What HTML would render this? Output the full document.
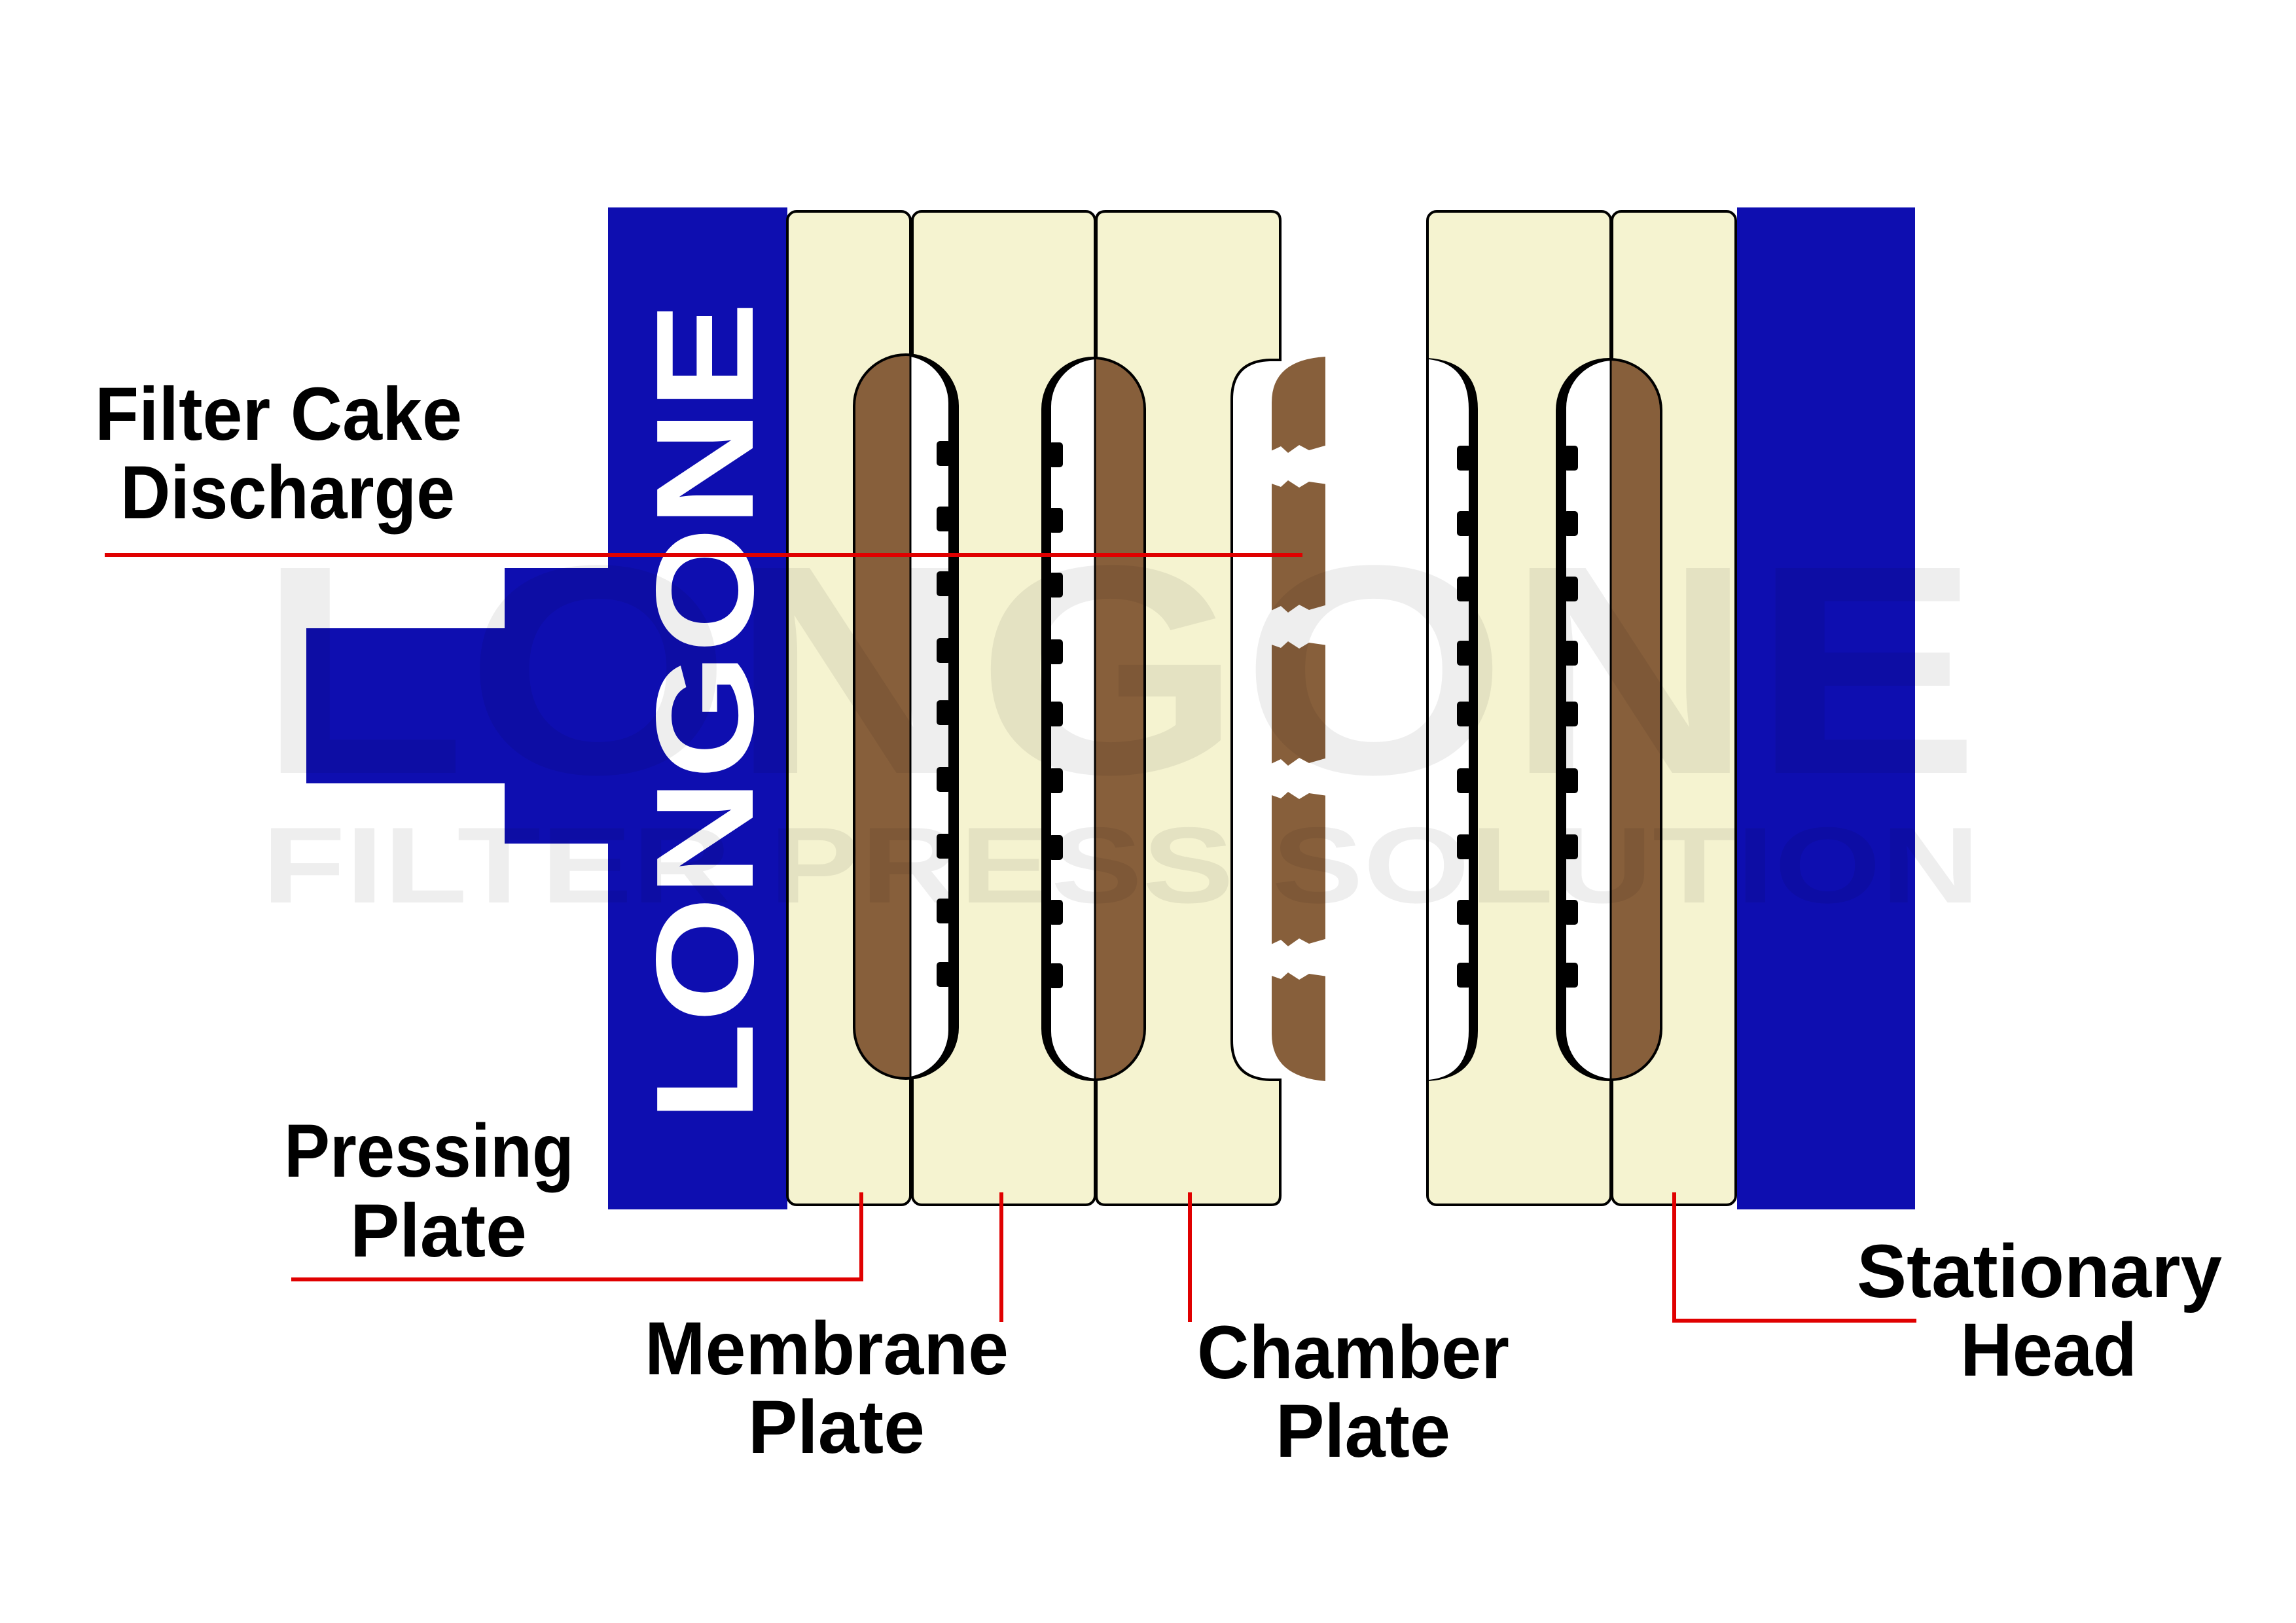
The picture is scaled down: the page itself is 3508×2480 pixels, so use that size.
<!DOCTYPE html>
<html><head><meta charset="utf-8"><style>html,body{margin:0;padding:0;background:#fff}svg{display:block}</style></head>
<body>
<svg width="3508" height="2480" viewBox="0 0 3508 2480" xmlns="http://www.w3.org/2000/svg">
<defs>
<clipPath id="L1"><rect x="0" y="0" width="1391" height="2480"/></clipPath>
<clipPath id="R1"><rect x="1391" y="0" width="2000" height="2480"/></clipPath>
<clipPath id="L2"><rect x="0" y="0" width="1673" height="2480"/></clipPath>
<clipPath id="R2"><rect x="1673" y="0" width="2000" height="2480"/></clipPath>
<clipPath id="L5"><rect x="0" y="0" width="2461" height="2480"/></clipPath>
<clipPath id="R5"><rect x="2461" y="0" width="2000" height="2480"/></clipPath>
<g id="bumpR"><rect x="-18" y="-19" width="22" height="38" rx="5" fill="#000"/></g>
<g id="bumpL"><rect x="-4" y="-19" width="22" height="38" rx="5" fill="#000"/></g>
</defs>

<rect x="468" y="960" width="310" height="237" fill="#0e0eb0"/>
<rect x="771" y="868" width="170" height="421" fill="#0e0eb0"/>
<rect x="929" y="317" width="274" height="1531" fill="#0e0eb0"/>
<rect x="2654" y="317" width="272" height="1531" fill="#0e0eb0"/>

<rect x="1203" y="323" width="188" height="1518" rx="14" fill="#f5f3d0" stroke="#000" stroke-width="4"/>
<rect x="1394" y="323" width="279" height="1518" rx="14" fill="#f5f3d0" stroke="#000" stroke-width="4"/>
<path d="M1689,323 H1942 Q1956,323 1956,337 V550 H1940 Q1882,552 1882,610 V1590 Q1882,1648 1940,1650 H1956 V1827 Q1956,1841 1942,1841 H1689 Q1675,1841 1675,1827 V337 Q1675,323 1689,323 Z" fill="#f5f3d0" stroke="#000" stroke-width="4"/>
<rect x="2181" y="323" width="280" height="1518" rx="14" fill="#f5f3d0" stroke="#000" stroke-width="4"/>
<rect x="2463" y="323" width="189" height="1518" rx="14" fill="#f5f3d0" stroke="#000" stroke-width="4"/>

<rect x="1303" y="540" width="162" height="1110" rx="81" ry="80" fill="#000"/>
<rect x="1307" y="544" width="154" height="1102" rx="77" ry="76" fill="#875f3b" clip-path="url(#L1)"/>
<rect x="1293" y="544" width="156" height="1102" rx="70" ry="72" fill="#fff" clip-path="url(#R1)"/>
<line x1="1391" y1="540" x2="1391" y2="1650" stroke="#000" stroke-width="3"/>
<g transform="translate(1449,0)">
<use href="#bumpR" y="693"/><use href="#bumpR" y="793"/><use href="#bumpR" y="892"/><use href="#bumpR" y="994"/><use href="#bumpR" y="1089"/><use href="#bumpR" y="1191"/><use href="#bumpR" y="1293"/><use href="#bumpR" y="1392"/><use href="#bumpR" y="1489"/>
</g>

<rect x="1591" y="545" width="160" height="1107" rx="80" ry="80" fill="#000"/>
<rect x="1606" y="549" width="170" height="1099" rx="72" ry="72" fill="#fff" clip-path="url(#L2)"/>
<rect x="1595" y="549" width="152" height="1099" rx="76" ry="76" fill="#875f3b" clip-path="url(#R2)"/>
<line x1="1673" y1="545" x2="1673" y2="1652" stroke="#000" stroke-width="3"/>
<g transform="translate(1606,0)">
<use href="#bumpL" y="695"/><use href="#bumpL" y="795"/><use href="#bumpL" y="894"/><use href="#bumpL" y="996"/><use href="#bumpL" y="1091"/><use href="#bumpL" y="1193"/><use href="#bumpL" y="1295"/><use href="#bumpL" y="1394"/><use href="#bumpL" y="1491"/>
</g>

<path d="M2025,545 V1652 Q1943,1645 1943,1580 V615 Q1943,550 2025,545 Z" fill="#875f3b"/>
<g fill="#fff">
<polygon points="1940,690 1957,682 1968,692 1985,680 2000,688 2028,680 2028,740 2000,736 1985,745 1968,734 1957,744 1940,738"/>
<polygon points="1940,934 1957,926 1968,936 1985,924 2000,932 2028,924 2028,986 2000,982 1985,991 1968,980 1957,990 1940,984"/>
<polygon points="1940,1168 1957,1160 1968,1170 1985,1158 2000,1166 2028,1158 2028,1216 2000,1212 1985,1221 1968,1210 1957,1220 1940,1214"/>
<polygon points="1940,1444 1957,1436 1968,1446 1985,1434 2000,1442 2028,1434 2028,1492 2000,1488 1985,1497 1968,1486 1957,1496 1940,1490"/>
</g>

<path d="M2181,547 Q2258,552 2258,625 V1575 Q2258,1648 2181,1652 Z" fill="#000"/>
<path d="M2183,549 Q2244,556 2244,625 V1575 Q2244,1644 2183,1650 Z" fill="#fff"/>
<line x1="2181" y1="547" x2="2181" y2="1652" stroke="#000" stroke-width="4"/>
<g transform="translate(2244,0)">
<use href="#bumpR" y="700"/><use href="#bumpR" y="800"/><use href="#bumpR" y="900"/><use href="#bumpR" y="998"/><use href="#bumpR" y="1091"/><use href="#bumpR" y="1193"/><use href="#bumpR" y="1294"/><use href="#bumpR" y="1394"/><use href="#bumpR" y="1490"/>
</g>

<rect x="2377" y="547" width="163" height="1105" rx="81" ry="80" fill="#000"/>
<rect x="2393" y="551" width="170" height="1097" rx="72" ry="72" fill="#fff" clip-path="url(#L5)"/>
<rect x="2381" y="551" width="155" height="1097" rx="77" ry="76" fill="#875f3b" clip-path="url(#R5)"/>
<line x1="2461" y1="547" x2="2461" y2="1652" stroke="#000" stroke-width="3"/>
<g transform="translate(2393,0)">
<use href="#bumpL" y="700"/><use href="#bumpL" y="800"/><use href="#bumpL" y="900"/><use href="#bumpL" y="998"/><use href="#bumpL" y="1091"/><use href="#bumpL" y="1193"/><use href="#bumpL" y="1294"/><use href="#bumpL" y="1394"/><use href="#bumpL" y="1490"/>
</g>

<text transform="translate(1150,1714) rotate(-90)" font-family="Liberation Sans, sans-serif" font-weight="bold" font-size="212" fill="#fff" textLength="1253" lengthAdjust="spacingAndGlyphs">LONGONE</text>

<g fill="#000" fill-opacity="0.065" font-family="Liberation Sans, sans-serif" font-weight="bold">
<text x="394" y="1181" font-size="455" textLength="2631" lengthAdjust="spacingAndGlyphs">LONGONE</text>
<text x="400" y="1379" font-size="165" textLength="2625" lengthAdjust="spacingAndGlyphs">FILTER PRESS SOLUTION</text>
</g>

<g stroke="#e00000" stroke-width="6" fill="none">
<line x1="160" y1="848" x2="1990" y2="848"/>
<polyline points="445,1955 1316,1955 1316,1822"/>
<line x1="1530" y1="1822" x2="1530" y2="2020"/>
<line x1="1818" y1="1822" x2="1818" y2="2020"/>
<polyline points="2558,1822 2558,2018 2928,2018"/>
</g>

<g font-family="Liberation Sans, sans-serif" font-weight="bold" font-size="115" fill="#000">
<text x="145" y="672" textLength="561" lengthAdjust="spacingAndGlyphs">Filter Cake</text>
<text x="184" y="792" textLength="511" lengthAdjust="spacingAndGlyphs">Discharge</text>
<text x="434" y="1798" textLength="443" lengthAdjust="spacingAndGlyphs">Pressing</text>
<text x="535" y="1920" textLength="270" lengthAdjust="spacingAndGlyphs">Plate</text>
<text x="985" y="2100" textLength="556" lengthAdjust="spacingAndGlyphs">Membrane</text>
<text x="1143" y="2220" textLength="270" lengthAdjust="spacingAndGlyphs">Plate</text>
<text x="1829" y="2106" textLength="477" lengthAdjust="spacingAndGlyphs">Chamber</text>
<text x="1949" y="2226" textLength="267" lengthAdjust="spacingAndGlyphs">Plate</text>
<text x="2837" y="1982" textLength="558" lengthAdjust="spacingAndGlyphs">Stationary</text>
<text x="2995" y="2102" textLength="270" lengthAdjust="spacingAndGlyphs">Head</text>
</g>
</svg>
</body></html>
